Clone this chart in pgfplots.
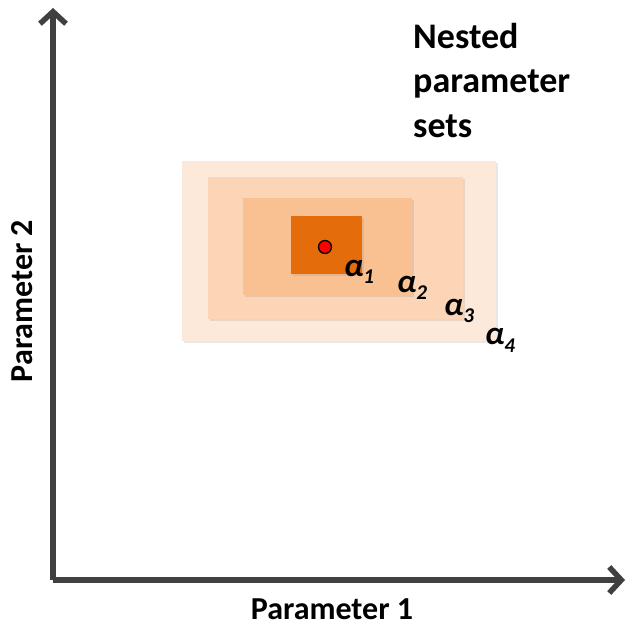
\documentclass[border=0pt]{standalone}
\usepackage{pgfplots}
\pgfplotsset{compat=1.18}
\usepackage{fontspec}
\setmainfont{Carlito}
\usetikzlibrary{arrows.meta,shadows}
\definecolor{axgray}{HTML}{404040}
\definecolor{cA}{HTML}{FDE9D9}
\definecolor{cB}{HTML}{FBD5B5}
\definecolor{cC}{HTML}{F9C091}
\definecolor{cD}{HTML}{E46C0A}
\newcommand{\al}[1]{{\fontsize{33}{33}\selectfont\bfseries\itshape α\raisebox{-7pt}{\fontsize{21}{21}\selectfont #1}}}
\begin{document}
\begin{tikzpicture}
\begin{axis}[
  scale only axis,
  width=572pt, height=572pt,
  xmin=53, xmax=625, ymin=47, ymax=619,
  axis lines=left,
  axis line style={line width=5.5pt, color=axgray},
  x axis line style={-{Straight Barb[length=12pt,width=26pt,line width=5.5pt]}},
  y axis line style={-{Straight Barb[length=12pt,width=26pt,line width=5.5pt]}},
  xtick=\empty, ytick=\empty,
  clip=false,
]
\path (axis cs:0,0) rectangle (axis cs:629,627);
% nested parameter sets
\addplot[draw=none, fill=cA, drop shadow={shadow xshift=2pt,shadow yshift=-2pt,opacity=0.18}] coordinates {(182,286) (496,286) (496,466) (182,466)} -- cycle;
\addplot[draw=none, fill=cB, drop shadow={shadow xshift=2pt,shadow yshift=-2pt,opacity=0.18}] coordinates {(208,308) (463,308) (463,450) (208,450)} -- cycle;
\addplot[draw=none, fill=cC, drop shadow={shadow xshift=2pt,shadow yshift=-2pt,opacity=0.18}] coordinates {(243,332) (412,332) (412,429) (243,429)} -- cycle;
\addplot[draw=none, fill=cD, drop shadow={shadow xshift=2pt,shadow yshift=-2pt,opacity=0.18}] coordinates {(291,353) (362,353) (362,411) (291,411)} -- cycle;
\addplot[only marks, mark=*, mark size=6.5pt, mark options={fill=red, draw=black, line width=1.3pt}] coordinates {(325,380)};
% labels
\node[anchor=base west, inner sep=0pt] at (axis cs:344,350) {\al{1}};
\node[anchor=base west, inner sep=0pt] at (axis cs:397,334) {\al{2}};
\node[anchor=base west, inner sep=0pt] at (axis cs:444,311) {\al{3}};
\node[anchor=base west, inner sep=0pt] at (axis cs:485,282) {\al{4}};
\node[anchor=base west, inner sep=0pt, font=\fontsize{36}{44}\selectfont\bfseries] at (axis cs:413,578) {Nested};
\node[anchor=base west, inner sep=0pt, font=\fontsize{36}{44}\selectfont\bfseries] at (axis cs:413,534) {parameter};
\node[anchor=base west, inner sep=0pt, font=\fontsize{36}{44}\selectfont\bfseries] at (axis cs:413,489) {sets};
\node[anchor=base, inner sep=0pt, font=\fontsize{32}{38}\selectfont\bfseries] at (axis cs:332,8) {Parameter 1};
\node[anchor=base, rotate=90, inner sep=0pt, font=\fontsize{32}{38}\selectfont\bfseries] at (axis cs:33,326) {Parameter 2};
\end{axis}
\end{tikzpicture}
\end{document}
